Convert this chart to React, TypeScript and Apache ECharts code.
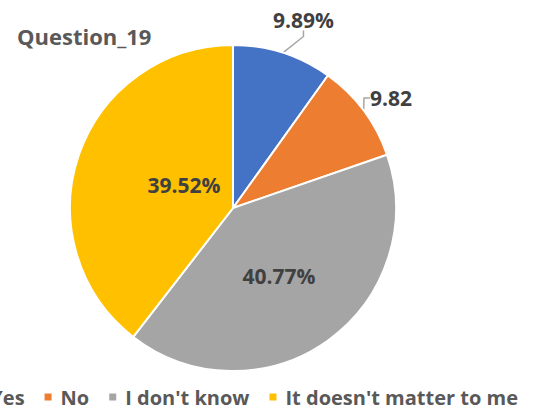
import React, { useEffect, useRef } from "react";
import * as echarts from "echarts";

const categories = ["Yes", "No", "I don't know", "It doesn't matter to me"];
const values = [9.89, 9.82, 40.77, 39.52];
const labelTexts = ["9.89%", "9.82", "40.77%", "39.52%"];
const colors = ["#4472C4", "#ED7D31", "#A5A5A5", "#FFC000"];
const outside = [true, true, false, false];

export default function App() {
  const ref = useRef<HTMLDivElement>(null);
  useEffect(() => {
    const chart = echarts.init(ref.current!, null, { renderer: "svg" });
    const font = "'Open Sans', sans-serif";
    chart.setOption({
      animation: false,
      title: {
        text: "Question_19",
        left: 17,
        top: 25,
        padding: 0,
        textStyle: { fontFamily: font, fontSize: 22, fontWeight: "bold", color: "#595959" },
      },
      legend: {
        data: categories,
        right: 17,
        top: 387,
        width: 900,
        padding: 0,
        itemWidth: 9,
        itemHeight: 9,
        itemGap: 18,
        icon: "rect",
        textStyle: { fontFamily: font, fontSize: 20, fontWeight: "bold", color: "#595959", padding: [0, 0, 0, 3] },
      },
      series: [
        {
          type: "pie",
          center: [233, 208],
          radius: [0, 163],
          startAngle: 90,
          clockwise: true,
          itemStyle: { borderColor: "#fff", borderWidth: 2 },
          labelLine: { show: true, length: 10, length2: 6, lineStyle: { color: "#A6A6A6", width: 1.5 } },
          labelLayout: (p: any) => {
            if (p.dataIndex === 0) return { x: 273, y: 20, align: "left", verticalAlign: "middle" };
            if (p.dataIndex === 1) return { x: 370, y: 98, align: "left", verticalAlign: "middle" };
            if (p.dataIndex === 3) return { x: 184, y: 185, align: "center", verticalAlign: "middle" };
            if (p.dataIndex === 2) return { x: 279, y: 276, align: "center", verticalAlign: "middle" };
            return {};
          },
          data: categories.map((c, i) => ({
            name: c,
            value: values[i],
            itemStyle: { color: colors[i] },
            label: {
              show: true,
              position: outside[i] ? "outside" : "inside",
              formatter: labelTexts[i],
              fontFamily: font,
              fontSize: 21,
              fontWeight: "bold",
              color: "#404040",
            },
            labelLine: { show: outside[i] },
          })),
        },
      ],
    });
    return () => chart.dispose();
  }, []);
  return <div ref={ref} style={{ width: 535, height: 409, position: "absolute", left: 0, top: 0 }} />;
}
